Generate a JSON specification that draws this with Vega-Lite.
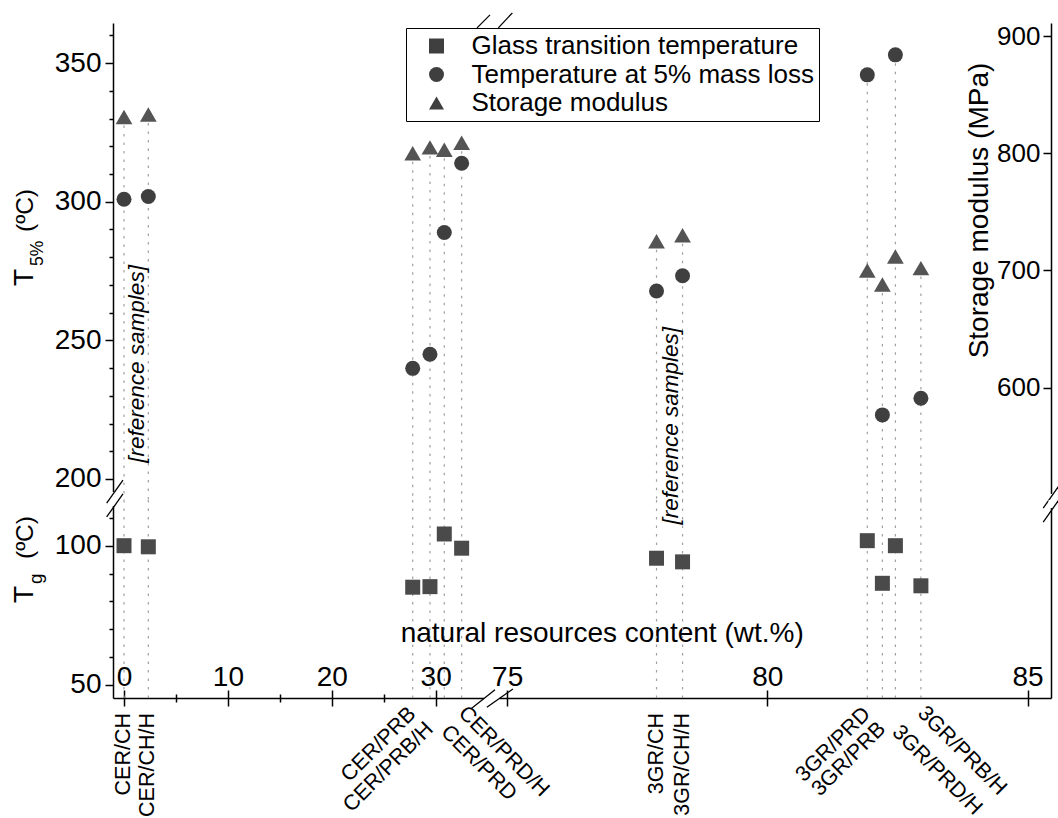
{
"$schema": "https://vega.github.io/schema/vega-lite/v6.json",
"background": "white",
"padding": {"left": 11, "top": 12, "right": 5, "bottom": 5},
"config": {
  "font": "Liberation Sans",
  "view": {"stroke": null},
  "axis": {"domainColor": "black", "domainWidth": 1.5, "tickColor": "black", "tickWidth": 1.5, "labelColor": "black", "labelFont": "Liberation Sans", "titleFont": "Liberation Sans", "titleColor": "black", "titleFontWeight": "normal", "grid": false, "labelFlush": false, "labelOverlap": false, "labelBound": false, "zindex": 0},
  "text": {"font": "Liberation Sans", "color": "black"}
},
"datasets": {
  "samples": [
    {"sample": "CER/CH", "content": 0, "tg": 100.0, "t5": 300.9, "sm": 831},
    {"sample": "CER/CH/H", "content": 2.34, "tg": 99.6, "t5": 301.9, "sm": 833},
    {"sample": "CER/PRB", "content": 27.79, "tg": 85.1, "t5": 239.9, "sm": 800},
    {"sample": "CER/PRB/H", "content": 29.45, "tg": 85.3, "t5": 245.0, "sm": 805},
    {"sample": "CER/PRD", "content": 30.83, "tg": 104.2, "t5": 288.9, "sm": 803},
    {"sample": "CER/PRD/H", "content": 32.5, "tg": 99.1, "t5": 313.9, "sm": 809},
    {"sample": "3GR/CH", "content": 77.87, "tg": 95.5, "t5": 267.8, "sm": 725},
    {"sample": "3GR/CH/H", "content": 78.37, "tg": 94.2, "t5": 273.3, "sm": 730},
    {"sample": "3GR/PRD", "content": 81.92, "tg": 101.8, "t5": 345.8, "sm": 700},
    {"sample": "3GR/PRB", "content": 82.21, "tg": 86.5, "t5": 223.1, "sm": 688},
    {"sample": "3GR/PRD/H", "content": 82.46, "tg": 100.0, "t5": 353.0, "sm": 712},
    {"sample": "3GR/PRB/H", "content": 82.95, "tg": 85.6, "t5": 229.1, "sm": 702}
  ]
},
"columns": 2,
"spacing": 0,
"bounds": "flush",
"resolve": {"scale": {"shape": "shared"}, "legend": {"shape": "shared"}},
"concat": [
   {
    "width": 377, "height": 477,
    "data": {"name": "samples"},
    "transform": [{"filter": "datum.content < 50"}],
    "layer": [
     {"mark": {"type": "rule", "color": "#a0a0a0", "strokeWidth": 1.2, "strokeDash": [2.5, 6]},
      "encoding": {
        "x": {"field": "content", "type": "quantitative", "scale": {"domain": [-1.06, 35.23], "nice": false, "zero": false}, "axis": {"orient": "top", "labels": false, "ticks": false, "title": null}},
        "y": {"field": "sm", "type": "quantitative", "scale": {"domain": [504.2, 911.1], "nice": false, "zero": false}, "axis": null},
        "y2": {"datum": 504.2}}},
     {"mark": {"type": "point", "filled": true, "opacity": 1, "size": 225, "color": "#3f3f3f", "strokeWidth": 0},
      "encoding": {
        "x": {"field": "content", "type": "quantitative", "axis": null},
        "y": {"field": "t5", "type": "quantitative", "scale": {"domain": [192.4, 364.5], "nice": false, "zero": false},
              "axis": {"orient": "left", "values": [200,210,220,230,240,250,260,270,280,290,300,310,320,330,340,350,360], "tickSize": {"condition": {"test": "datum.value % 50 === 0", "value": 8}, "value": 4}, "labelExpr": "datum.value % 50 === 0 ? datum.label : ''", "labelFontSize": 28, "labelPadding": 4, "title": null}},
        "shape": {"datum": "Temperature at 5% mass loss", "type": "nominal",
                  "scale": {"domain": ["Glass transition temperature", "Temperature at 5% mass loss", "Storage modulus"], "range": ["square", "circle", "triangle-up"]},
                  "legend": {"orient": "none", "legendX": 293, "legendY": 5, "title": null, "labelFontSize": 26, "labelFont": "Liberation Sans", "labelColor": "black", "symbolSize": 225, "symbolFillColor": "#474747", "symbolStrokeWidth": 0, "strokeColor": "black", "fillColor": "white", "padding": 5, "rowPadding": 2.5, "symbolOffset": 12.5, "labelOffset": 22, "labelLimit": 600, "cornerRadius": 0}}}},
     {"data": {"values": [{}]},
      "mark": {"type": "text", "text": "[reference samples]", "angle": 270, "align": "center", "baseline": "middle", "fontSize": 22.5, "fontStyle": "italic", "color": "black"},
      "encoding": {
        "x": {"datum": 1.25, "type": "quantitative", "axis": null},
        "y": {"datum": 241.5, "type": "quantitative", "scale": {"domain": [192.4, 364.5], "nice": false, "zero": false}, "axis": null}}},
     {"data": {"values": [{}]},
      "mark": {"type": "text", "text": "T", "angle": 270, "align": "left", "baseline": "alphabetic", "fontSize": 28, "color": "black"},
      "encoding": {
        "x": {"datum": -8.76, "type": "quantitative", "axis": null},
        "y": {"datum": 269.63, "type": "quantitative", "scale": {"domain": [192.4, 364.5], "nice": false, "zero": false}, "axis": null}}},
     {"data": {"values": [{}]},
      "mark": {"type": "text", "text": "5%", "angle": 270, "align": "left", "baseline": "alphabetic", "fontSize": 17.5, "dx": 20, "dy": 10, "color": "black"},
      "encoding": {
        "x": {"datum": -8.76, "type": "quantitative", "axis": null},
        "y": {"datum": 269.63, "type": "quantitative", "scale": {"domain": [192.4, 364.5], "nice": false, "zero": false}, "axis": null}}},
     {"data": {"values": [{}]},
      "mark": {"type": "text", "text": "(ºC)", "angle": 270, "align": "left", "baseline": "alphabetic", "fontSize": 24.5, "dx": 54, "color": "black"},
      "encoding": {
        "x": {"datum": -8.76, "type": "quantitative", "axis": null},
        "y": {"datum": 269.63, "type": "quantitative", "scale": {"domain": [192.4, 364.5], "nice": false, "zero": false}, "axis": null}}},
     {"data": {"values": [{}]},
      "mark": {"type": "rule", "color": "white", "strokeWidth": 5},
      "encoding": {
        "x": {"datum": 34.36, "type": "quantitative", "axis": null},
        "x2": {"datum": 35.23},
        "y": {"datum": 364.5, "type": "quantitative", "scale": {"domain": [192.4, 364.5], "nice": false, "zero": false}, "axis": null}}},
     {"data": {"values": [{}]},
      "mark": {"type": "rule", "color": "black", "strokeWidth": 1.3},
      "encoding": {
        "x": {"datum": 33.98, "type": "quantitative", "axis": null},
        "x2": {"datum": 35.23},
        "y": {"datum": 362.74, "type": "quantitative", "scale": {"domain": [192.4, 364.5], "nice": false, "zero": false}, "axis": null},
        "y2": {"datum": 367.43}}},
     {"data": {"values": [{}]},
      "mark": {"type": "rule", "color": "white", "strokeWidth": 5},
      "encoding": {
        "x": {"datum": -1.06, "type": "quantitative", "axis": null},
        "y": {"datum": 195.3, "type": "quantitative", "scale": {"domain": [192.4, 364.5], "nice": false, "zero": false}, "axis": null},
        "y2": {"datum": 192.4}}},
     {"data": {"values": [{}]},
      "mark": {"type": "rule", "color": "black", "strokeWidth": 1.3},
      "encoding": {
        "x": {"datum": -1.67, "type": "quantitative", "axis": null},
        "x2": {"datum": -0.10},
        "y": {"datum": 191.3, "type": "quantitative", "scale": {"domain": [192.4, 364.5], "nice": false, "zero": false}, "axis": null},
        "y2": {"datum": 199.6}}},
     {"mark": {"type": "point", "filled": true, "opacity": 1, "size": 280, "color": "#545454", "strokeWidth": 0},
      "encoding": {
        "x": {"field": "content", "type": "quantitative", "axis": null},
        "y": {"field": "sm", "type": "quantitative", "scale": {"domain": [504.2, 911.1], "nice": false, "zero": false}, "axis": null},
        "shape": {"datum": "Storage modulus", "type": "nominal", "scale": {"domain": ["Glass transition temperature", "Temperature at 5% mass loss", "Storage modulus"], "range": ["square", "circle", "triangle-up"]}}}}
    ],
    "resolve": {"scale": {"y": "independent"}, "axis": {"y": "independent"}}
   },
   {
    "width": 561, "height": 477,
    "data": {"name": "samples"},
    "transform": [{"filter": "datum.content > 50"}],
    "layer": [
     {"transform": [{"filter": {"not": {"field": "sample", "oneOf": ["3GR/PRD", "3GR/PRD/H"]}}}],
      "mark": {"type": "rule", "color": "#a0a0a0", "strokeWidth": 1.2, "strokeDash": [2.5, 6]},
      "encoding": {
        "x": {"field": "content", "type": "quantitative", "scale": {"domain": [74.67, 85.45], "nice": false, "zero": false}, "axis": {"orient": "top", "labels": false, "ticks": false, "title": null}},
        "y": {"field": "sm", "type": "quantitative", "scale": {"domain": [504.2, 911.1], "nice": false, "zero": false},
              "axis": {"orient": "right", "values": [600, 700, 800, 900], "tickSize": -8, "labelPadding": -3, "labelAlign": "right", "labelBaseline": "middle", "labelFontSize": 26, "title": "Storage modulus (MPa)", "titleFontSize": 28, "titleAngle": 270, "titleX": -72, "titleY": 187, "titleAlign": "center", "titleBaseline": "middle"}},
        "y2": {"datum": 504.2}}},
     {"transform": [{"filter": {"field": "sample", "oneOf": ["3GR/PRD", "3GR/PRD/H"]}}],
      "mark": {"type": "rule", "color": "#a0a0a0", "strokeWidth": 1.2, "strokeDash": [2.5, 6]},
      "encoding": {
        "x": {"field": "content", "type": "quantitative", "axis": null},
        "y": {"field": "t5", "type": "quantitative", "scale": {"domain": [192.4, 364.5], "nice": false, "zero": false}, "axis": null},
        "y2": {"datum": 192.4}}},
     {"mark": {"type": "point", "filled": true, "opacity": 1, "size": 225, "color": "#3f3f3f", "strokeWidth": 0},
      "encoding": {
        "x": {"field": "content", "type": "quantitative", "axis": null},
        "y": {"field": "t5", "type": "quantitative", "scale": {"domain": [192.4, 364.5], "nice": false, "zero": false}, "axis": null},
        "shape": {"datum": "Temperature at 5% mass loss", "type": "nominal", "scale": {"domain": ["Glass transition temperature", "Temperature at 5% mass loss", "Storage modulus"], "range": ["square", "circle", "triangle-up"]}}}},
     {"data": {"values": [{}]},
      "mark": {"type": "text", "text": "[reference samples]", "angle": 270, "align": "center", "baseline": "middle", "fontSize": 22.5, "fontStyle": "italic", "color": "black"},
      "encoding": {
        "x": {"datum": 78.15, "type": "quantitative", "axis": null},
        "y": {"datum": 219.2, "type": "quantitative", "scale": {"domain": [192.4, 364.5], "nice": false, "zero": false}, "axis": null}}},
     {"data": {"values": [{}]},
      "mark": {"type": "rule", "color": "white", "strokeWidth": 5},
      "encoding": {
        "x": {"datum": 74.67, "type": "quantitative", "axis": null},
        "x2": {"datum": 74.88},
        "y": {"datum": 364.5, "type": "quantitative", "scale": {"domain": [192.4, 364.5], "nice": false, "zero": false}, "axis": null}}},
     {"data": {"values": [{}]},
      "mark": {"type": "rule", "color": "black", "strokeWidth": 1.3},
      "encoding": {
        "x": {"datum": 74.83, "type": "quantitative", "axis": null},
        "x2": {"datum": 75.10},
        "y": {"datum": 362.74, "type": "quantitative", "scale": {"domain": [192.4, 364.5], "nice": false, "zero": false}, "axis": null},
        "y2": {"datum": 368.15}}},
     {"data": {"values": [{}]},
      "mark": {"type": "rule", "color": "white", "strokeWidth": 5},
      "encoding": {
        "x": {"datum": 85.45, "type": "quantitative", "axis": null},
        "y": {"datum": 194.6, "type": "quantitative", "scale": {"domain": [192.4, 364.5], "nice": false, "zero": false}, "axis": null},
        "y2": {"datum": 192.4}}},
     {"data": {"values": [{}]},
      "mark": {"type": "rule", "color": "black", "strokeWidth": 1.3},
      "encoding": {
        "x": {"datum": 85.30, "type": "quantitative", "axis": null},
        "x2": {"datum": 85.60},
        "y": {"datum": 189.5, "type": "quantitative", "scale": {"domain": [192.4, 364.5], "nice": false, "zero": false}, "axis": null},
        "y2": {"datum": 197.5}}},
     {"mark": {"type": "point", "filled": true, "opacity": 1, "size": 280, "color": "#545454", "strokeWidth": 0},
      "encoding": {
        "x": {"field": "content", "type": "quantitative", "axis": null},
        "y": {"field": "sm", "type": "quantitative", "scale": {"domain": [504.2, 911.1], "nice": false, "zero": false}, "axis": null},
        "shape": {"datum": "Storage modulus", "type": "nominal", "scale": {"domain": ["Glass transition temperature", "Temperature at 5% mass loss", "Storage modulus"], "range": ["square", "circle", "triangle-up"]}}}}
    ],
    "resolve": {"scale": {"y": "independent"}, "axis": {"y": "independent"}}
   },
   {
    "width": 377, "height": 198,
    "data": {"name": "samples"},
    "transform": [{"filter": "datum.content < 50"}],
    "layer": [
     {"mark": {"type": "rule", "color": "#a0a0a0", "strokeWidth": 1.2, "strokeDash": [2.5, 6]},
      "encoding": {
        "x": {"field": "content", "type": "quantitative", "scale": {"domain": [-1.06, 35.23], "nice": false, "zero": false},
              "axis": {"orient": "bottom", "values": [0, 5, 10, 15, 20, 25, 30], "tickSize": {"condition": {"test": "datum.value % 10 === 0", "value": -8}, "value": -4}, "labelExpr": "datum.value % 10 === 0 ? datum.label : ''", "labelFontSize": 28, "labelPadding": -5, "labelBaseline": "alphabetic", "labelAlign": "center", "title": null}}}},
     {"mark": {"type": "point", "filled": true, "opacity": 1, "size": 225, "color": "#4a4a4a", "strokeWidth": 0},
      "encoding": {
        "x": {"field": "content", "type": "quantitative", "scale": {"domain": [-1.06, 35.23], "nice": false, "zero": false}, "axis": null},
        "y": {"field": "tg", "type": "quantitative", "scale": {"domain": [45.33, 116.4], "nice": false, "zero": false},
              "axis": {"orient": "left", "values": [50, 60, 70, 80, 90, 100, 110], "tickSize": {"condition": {"test": "datum.value % 50 === 0", "value": 8}, "value": 4}, "labelExpr": "datum.value % 50 === 0 ? datum.label : ''", "labelFontSize": 28, "labelPadding": 4, "title": null}},
        "shape": {"datum": "Glass transition temperature", "type": "nominal", "scale": {"domain": ["Glass transition temperature", "Temperature at 5% mass loss", "Storage modulus"], "range": ["square", "circle", "triangle-up"]}}}},
     {"data": {"values": [{}]},
      "mark": {"type": "text", "text": "T", "angle": 270, "align": "left", "baseline": "alphabetic", "fontSize": 28, "color": "black"},
      "encoding": {
        "x": {"datum": -8.76, "type": "quantitative", "scale": {"domain": [-1.06, 35.23], "nice": false, "zero": false}, "axis": null},
        "y": {"datum": 79.43, "type": "quantitative", "scale": {"domain": [45.33, 116.4], "nice": false, "zero": false}, "axis": null}}},
     {"data": {"values": [{}]},
      "mark": {"type": "text", "text": "g", "angle": 270, "align": "left", "baseline": "alphabetic", "fontSize": 19, "dx": 19, "dy": 9, "color": "black"},
      "encoding": {
        "x": {"datum": -8.76, "type": "quantitative", "scale": {"domain": [-1.06, 35.23], "nice": false, "zero": false}, "axis": null},
        "y": {"datum": 79.43, "type": "quantitative", "scale": {"domain": [45.33, 116.4], "nice": false, "zero": false}, "axis": null}}},
     {"data": {"values": [{}]},
      "mark": {"type": "text", "text": "(ºC)", "angle": 270, "align": "left", "baseline": "alphabetic", "fontSize": 24.5, "dx": 44, "color": "black"},
      "encoding": {
        "x": {"datum": -8.76, "type": "quantitative", "scale": {"domain": [-1.06, 35.23], "nice": false, "zero": false}, "axis": null},
        "y": {"datum": 79.43, "type": "quantitative", "scale": {"domain": [45.33, 116.4], "nice": false, "zero": false}, "axis": null}}},
     {"data": {"values": [{}]},
      "mark": {"type": "rule", "color": "white", "strokeWidth": 5},
      "encoding": {
        "x": {"datum": -1.06, "type": "quantitative", "scale": {"domain": [-1.06, 35.23], "nice": false, "zero": false}, "axis": null},
        "y": {"datum": 116.4, "type": "quantitative", "scale": {"domain": [45.33, 116.4], "nice": false, "zero": false}, "axis": null},
        "y2": {"datum": 114.25}}},
     {"data": {"values": [{}]},
      "mark": {"type": "rule", "color": "black", "strokeWidth": 1.3},
      "encoding": {
        "x": {"datum": -1.67, "type": "quantitative", "scale": {"domain": [-1.06, 35.23], "nice": false, "zero": false}, "axis": null},
        "x2": {"datum": -0.10},
        "y": {"datum": 110.3, "type": "quantitative", "scale": {"domain": [45.33, 116.4], "nice": false, "zero": false}, "axis": null},
        "y2": {"datum": 118.56}}},
     {"data": {"values": [{}]},
      "mark": {"type": "rule", "color": "white", "strokeWidth": 5},
      "encoding": {
        "x": {"datum": 34.65, "type": "quantitative", "scale": {"domain": [-1.06, 35.23], "nice": false, "zero": false}, "axis": null},
        "x2": {"datum": 35.23},
        "y": {"datum": 45.33, "type": "quantitative", "scale": {"domain": [45.33, 116.4], "nice": false, "zero": false}, "axis": null}}},
     {"data": {"values": [{}]},
      "mark": {"type": "rule", "color": "black", "strokeWidth": 1.3},
      "encoding": {
        "x": {"datum": 33.47, "type": "quantitative", "scale": {"domain": [-1.06, 35.23], "nice": false, "zero": false}, "axis": null},
        "x2": {"datum": 35.71},
        "y": {"datum": 41.64, "type": "quantitative", "scale": {"domain": [45.33, 116.4], "nice": false, "zero": false}, "axis": null},
        "y2": {"datum": 48.27}}},
     {"transform": [{"filter": {"field": "sample", "oneOf": ["CER/CH", "CER/CH/H", "3GR/CH", "3GR/CH/H"]}}],
      "mark": {"type": "text", "angle": 270, "align": "right", "baseline": "middle", "fontSize": 21.5, "color": "black"},
      "encoding": {
        "x": {"field": "content", "type": "quantitative", "scale": {"domain": [-1.06, 35.23], "nice": false, "zero": false},
              "axis": {"orient": "bottom", "values": [0, 5, 10, 15, 20, 25, 30], "tickSize": {"condition": {"test": "datum.value % 10 === 0", "value": 8}, "value": 4}, "labels": false, "domain": false, "title": null}},
        "y": {"datum": 39.95, "type": "quantitative", "scale": {"domain": [45.33, 116.4], "nice": false, "zero": false}, "axis": null},
        "text": {"field": "sample"}}},
     {"transform": [{"filter": {"field": "sample", "oneOf": ["CER/PRB", "3GR/PRD"]}}],
      "mark": {"type": "text", "angle": 315, "align": "right", "baseline": "middle", "fontSize": 21.5, "color": "black"},
      "encoding": {
        "x": {"field": "content", "type": "quantitative", "scale": {"domain": [-1.06, 35.23], "nice": false, "zero": false}, "axis": null},
        "y": {"datum": 40.67, "type": "quantitative", "scale": {"domain": [45.33, 116.4], "nice": false, "zero": false}, "axis": null},
        "text": {"field": "sample"}}},
     {"transform": [{"filter": {"field": "sample", "oneOf": ["CER/PRB/H", "3GR/PRB"]}}],
      "mark": {"type": "text", "angle": 315, "align": "right", "baseline": "middle", "fontSize": 21.5, "color": "black"},
      "encoding": {
        "x": {"field": "content", "type": "quantitative", "scale": {"domain": [-1.06, 35.23], "nice": false, "zero": false}, "axis": null},
        "y": {"datum": 35.3, "type": "quantitative", "scale": {"domain": [45.33, 116.4], "nice": false, "zero": false}, "axis": null},
        "text": {"field": "sample"}}},
     {"transform": [{"filter": {"field": "sample", "oneOf": ["CER/PRD/H", "3GR/PRB/H"]}}],
      "mark": {"type": "text", "angle": 45, "align": "left", "baseline": "middle", "fontSize": 21.5, "color": "black"},
      "encoding": {
        "x": {"field": "content", "type": "quantitative", "scale": {"domain": [-1.06, 35.23], "nice": false, "zero": false}, "axis": null},
        "y": {"datum": 41.03, "type": "quantitative", "scale": {"domain": [45.33, 116.4], "nice": false, "zero": false}, "axis": null},
        "text": {"field": "sample"}}},
     {"transform": [{"filter": {"field": "sample", "oneOf": ["CER/PRD", "3GR/PRD/H"]}}],
      "mark": {"type": "text", "angle": 45, "align": "left", "baseline": "middle", "fontSize": 21.5, "color": "black"},
      "encoding": {
        "x": {"field": "content", "type": "quantitative", "scale": {"domain": [-1.06, 35.23], "nice": false, "zero": false}, "axis": null},
        "y": {"datum": 34.2, "type": "quantitative", "scale": {"domain": [45.33, 116.4], "nice": false, "zero": false}, "axis": null},
        "text": {"field": "sample"}}}
    ],
    "resolve": {"scale": {"x": "independent", "y": "independent"}, "axis": {"x": "independent", "y": "independent"}}
   },
   {
    "width": 561, "height": 198,
    "data": {"name": "samples"},
    "transform": [{"filter": "datum.content > 50"}],
    "layer": [
     {"mark": {"type": "rule", "color": "#a0a0a0", "strokeWidth": 1.2, "strokeDash": [2.5, 6]},
      "encoding": {
        "x": {"field": "content", "type": "quantitative", "scale": {"domain": [74.67, 85.45], "nice": false, "zero": false},
              "axis": {"orient": "bottom", "values": [75, 80, 85], "tickSize": -8, "labelFontSize": 28, "labelPadding": -5, "labelBaseline": "alphabetic", "labelAlign": "center", "title": "natural resources content (wt.%)", "titleFontSize": 28, "titleX": 111.7, "titleY": -65, "titleAlign": "center", "titleBaseline": "middle", "titleAngle": 0}}}},
     {"mark": {"type": "point", "filled": true, "opacity": 1, "size": 225, "color": "#4a4a4a", "strokeWidth": 0},
      "encoding": {
        "x": {"field": "content", "type": "quantitative", "scale": {"domain": [74.67, 85.45], "nice": false, "zero": false}, "axis": null},
        "y": {"field": "tg", "type": "quantitative", "scale": {"domain": [45.33, 116.4], "nice": false, "zero": false},
              "axis": {"orient": "right", "labels": false, "ticks": false, "title": null}},
        "shape": {"datum": "Glass transition temperature", "type": "nominal", "scale": {"domain": ["Glass transition temperature", "Temperature at 5% mass loss", "Storage modulus"], "range": ["square", "circle", "triangle-up"]}}}},
     {"data": {"values": [{}]},
      "mark": {"type": "rule", "color": "white", "strokeWidth": 5},
      "encoding": {
        "x": {"datum": 74.67, "type": "quantitative", "scale": {"domain": [74.67, 85.45], "nice": false, "zero": false}, "axis": null},
        "x2": {"datum": 74.85},
        "y": {"datum": 45.33, "type": "quantitative", "scale": {"domain": [45.33, 116.4], "nice": false, "zero": false}, "axis": null}}},
     {"data": {"values": [{}]},
      "mark": {"type": "rule", "color": "black", "strokeWidth": 1.3},
      "encoding": {
        "x": {"datum": 74.61, "type": "quantitative", "scale": {"domain": [74.67, 85.45], "nice": false, "zero": false}, "axis": null},
        "x2": {"datum": 75.11},
        "y": {"datum": 41.99, "type": "quantitative", "scale": {"domain": [45.33, 116.4], "nice": false, "zero": false}, "axis": null},
        "y2": {"datum": 48.56}}},
     {"data": {"values": [{}]},
      "mark": {"type": "rule", "color": "white", "strokeWidth": 5},
      "encoding": {
        "x": {"datum": 85.45, "type": "quantitative", "scale": {"domain": [74.67, 85.45], "nice": false, "zero": false}, "axis": null},
        "y": {"datum": 116.4, "type": "quantitative", "scale": {"domain": [45.33, 116.4], "nice": false, "zero": false}, "axis": null},
        "y2": {"datum": 113.5}}},
     {"data": {"values": [{}]},
      "mark": {"type": "rule", "color": "black", "strokeWidth": 1.3},
      "encoding": {
        "x": {"datum": 85.30, "type": "quantitative", "scale": {"domain": [74.67, 85.45], "nice": false, "zero": false}, "axis": null},
        "x2": {"datum": 85.60},
        "y": {"datum": 108.5, "type": "quantitative", "scale": {"domain": [45.33, 116.4], "nice": false, "zero": false}, "axis": null},
        "y2": {"datum": 116.4}}},
     {"transform": [{"filter": {"field": "sample", "oneOf": ["CER/CH", "CER/CH/H", "3GR/CH", "3GR/CH/H"]}}],
      "mark": {"type": "text", "angle": 270, "align": "right", "baseline": "middle", "fontSize": 21.5, "color": "black"},
      "encoding": {
        "x": {"field": "content", "type": "quantitative", "scale": {"domain": [74.67, 85.45], "nice": false, "zero": false},
              "axis": {"orient": "bottom", "values": [75, 80, 85], "tickSize": 8, "labels": false, "domain": false, "title": null}},
        "y": {"datum": 39.95, "type": "quantitative", "scale": {"domain": [45.33, 116.4], "nice": false, "zero": false}, "axis": null},
        "text": {"field": "sample"}}},
     {"transform": [{"filter": {"field": "sample", "oneOf": ["CER/PRB", "3GR/PRD"]}}],
      "mark": {"type": "text", "angle": 315, "align": "right", "baseline": "middle", "fontSize": 21.5, "color": "black"},
      "encoding": {
        "x": {"field": "content", "type": "quantitative", "scale": {"domain": [74.67, 85.45], "nice": false, "zero": false}, "axis": null},
        "y": {"datum": 40.67, "type": "quantitative", "scale": {"domain": [45.33, 116.4], "nice": false, "zero": false}, "axis": null},
        "text": {"field": "sample"}}},
     {"transform": [{"filter": {"field": "sample", "oneOf": ["CER/PRB/H", "3GR/PRB"]}}],
      "mark": {"type": "text", "angle": 315, "align": "right", "baseline": "middle", "fontSize": 21.5, "color": "black"},
      "encoding": {
        "x": {"field": "content", "type": "quantitative", "scale": {"domain": [74.67, 85.45], "nice": false, "zero": false}, "axis": null},
        "y": {"datum": 35.3, "type": "quantitative", "scale": {"domain": [45.33, 116.4], "nice": false, "zero": false}, "axis": null},
        "text": {"field": "sample"}}},
     {"transform": [{"filter": {"field": "sample", "oneOf": ["CER/PRD/H", "3GR/PRB/H"]}}],
      "mark": {"type": "text", "angle": 45, "align": "left", "baseline": "middle", "fontSize": 21.5, "color": "black"},
      "encoding": {
        "x": {"field": "content", "type": "quantitative", "scale": {"domain": [74.67, 85.45], "nice": false, "zero": false}, "axis": null},
        "y": {"datum": 41.03, "type": "quantitative", "scale": {"domain": [45.33, 116.4], "nice": false, "zero": false}, "axis": null},
        "text": {"field": "sample"}}},
     {"transform": [{"filter": {"field": "sample", "oneOf": ["CER/PRD", "3GR/PRD/H"]}}],
      "mark": {"type": "text", "angle": 45, "align": "left", "baseline": "middle", "fontSize": 21.5, "color": "black"},
      "encoding": {
        "x": {"field": "content", "type": "quantitative", "scale": {"domain": [74.67, 85.45], "nice": false, "zero": false}, "axis": null},
        "y": {"datum": 34.2, "type": "quantitative", "scale": {"domain": [45.33, 116.4], "nice": false, "zero": false}, "axis": null},
        "text": {"field": "sample"}}}
    ],
    "resolve": {"scale": {"x": "independent", "y": "independent"}, "axis": {"x": "independent", "y": "independent"}}
   }
]
}
